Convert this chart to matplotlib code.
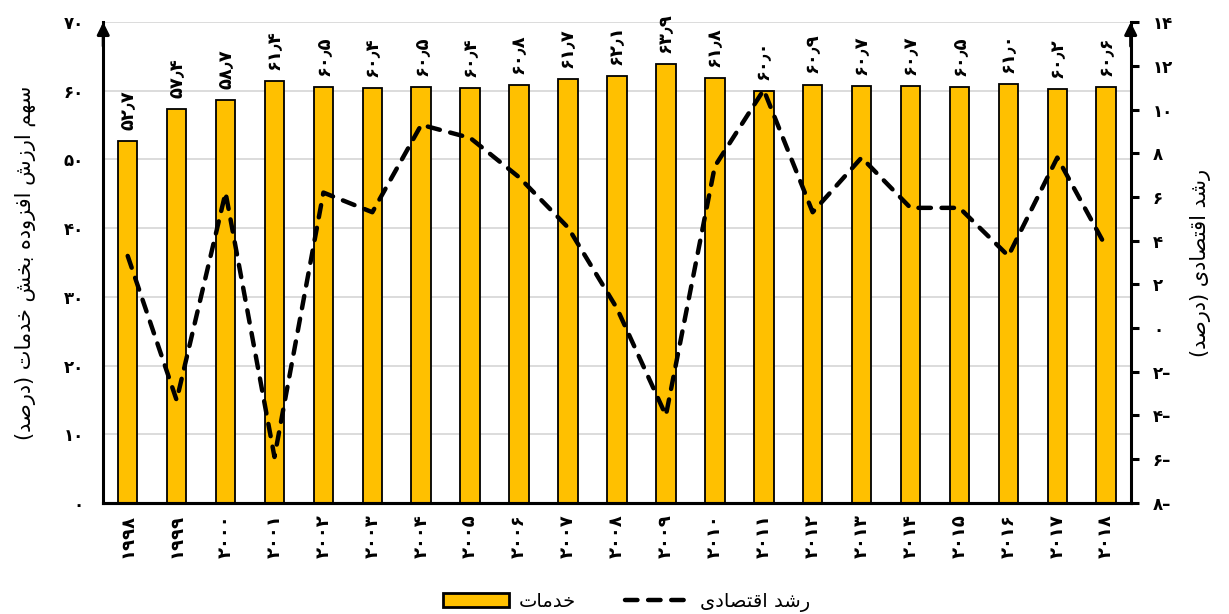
import matplotlib
matplotlib.use("Agg")
import matplotlib.pyplot as plt
from matplotlib.patches import Patch
from matplotlib.lines import Line2D

# services value-added share (%) and economic growth (%) by year
years = list(range(1998, 2019))
services_share = [52.7, 57.4, 58.7, 61.4, 60.5, 60.4, 60.5, 60.4, 60.8, 61.7, 62.1,
                  63.9, 61.8, 60.0, 60.9, 60.7, 60.7, 60.5, 61.0, 60.2, 60.6]
growth = [3.3, -3.3, 6.2, -5.9, 6.2, 5.3, 9.3, 8.7, 6.9, 4.6, 0.9,
          -4.0, 7.4, 10.9, 5.3, 7.8, 5.5, 5.5, 3.3, 7.8, 3.7]

left_ticks = list(range(0, 71, 10))
right_ticks = list(range(-8, 15, 2))

services_label = "خدمات"
growth_label = "رشد اقتصادی"
left_title = "سهم ارزش افزوده بخش خدمات (درصد)"
right_title = "رشد اقتصادی (درصد)"

BAR_COLOR = "#FFC000"

# --- minimal Persian shaping (matplotlib has no RTL/joining support) ---
# forms: isolated, final, initial, medial (right-joining letters only have two)
FORMS = {
    "ا": ("\uFE8D", "\uFE8E"),
    "ب": ("\uFE8F", "\uFE90", "\uFE91", "\uFE92"),
    "ت": ("\uFE95", "\uFE96", "\uFE97", "\uFE98"),
    "خ": ("\uFEA5", "\uFEA6", "\uFEA7", "\uFEA8"),
    "د": ("\uFEA9", "\uFEAA"),
    "ر": ("\uFEAD", "\uFEAE"),
    "ز": ("\uFEAF", "\uFEB0"),
    "س": ("\uFEB1", "\uFEB2", "\uFEB3", "\uFEB4"),
    "ش": ("\uFEB5", "\uFEB6", "\uFEB7", "\uFEB8"),
    "ص": ("\uFEB9", "\uFEBA", "\uFEBB", "\uFEBC"),
    "ف": ("\uFED1", "\uFED2", "\uFED3", "\uFED4"),
    "ق": ("\uFED5", "\uFED6", "\uFED7", "\uFED8"),
    "م": ("\uFEE1", "\uFEE2", "\uFEE3", "\uFEE4"),
    "ه": ("\uFEE9", "\uFEEA", "\uFEEB", "\uFEEC"),
    "و": ("\uFEED", "\uFEEE"),
    "ی": ("\uFEEF", "\uFEF0", "\uFEF3", "\uFEF4"),
}
MIRROR = {"(": ")", ")": "("}


def fa(text):
    out = []
    for i, ch in enumerate(text):
        forms = FORMS.get(ch)
        if forms is None:
            out.append(MIRROR.get(ch, ch))
            continue
        prev = text[i - 1] if i > 0 else ""
        nxt = text[i + 1] if i + 1 < len(text) else ""
        joins_prev = prev in FORMS and len(FORMS[prev]) == 4
        joins_next = len(forms) == 4 and nxt in FORMS
        if joins_prev and joins_next:
            out.append(forms[3])
        elif joins_prev:
            out.append(forms[1])
        elif joins_next:
            out.append(forms[2])
        else:
            out.append(forms[0])
    return "".join(reversed(out))


FA_DIGITS = str.maketrans("0123456789.", "۰۱۲۳۴۵۶۷۸۹٫")


def fa_num(value, fmt="{}"):
    s = fmt.format(abs(value)).translate(FA_DIGITS)
    return s + "\u2013" if value < 0 else s


plt.rcParams["font.family"] = ["DejaVu Sans"]

fig = plt.figure(figsize=(12.29, 6.14), dpi=100)
ax = fig.add_axes([0.084, 0.181, 0.836, 0.783])
ax2 = ax.twinx()

x = list(range(len(years)))
bars = ax.bar(x, services_share, width=0.4, color=BAR_COLOR,
              edgecolor="black", linewidth=1.3, zorder=2)
for xi, v in zip(x, services_share):
    ax.annotate(fa_num(v, "{:.1f}"), (xi, v), xytext=(0, 8),
                textcoords="offset points", rotation=90, ha="center",
                va="bottom", fontsize=13, fontweight="bold")

ax2.plot(x, growth, color="black", lw=3.2, dashes=(2.8, 2.4),
         dash_capstyle="round", zorder=3)

ax.set_xlim(-0.5, 20.5)
ax.set_ylim(0, 70)
ax2.set_ylim(-8, 14)

ax.set_yticks(left_ticks)
ax.set_yticklabels([fa_num(t) for t in left_ticks], fontsize=12, fontweight="bold")
ax2.set_yticks(right_ticks)
ax2.set_yticklabels([fa_num(t) for t in right_ticks], fontsize=12, fontweight="bold")
ax.set_xticks(x)
ax.set_xticklabels([fa_num(y) for y in years], rotation=90, fontsize=13,
                   fontweight="bold")

ax.tick_params(axis="y", length=0, pad=14)
ax.tick_params(axis="x", length=0, pad=8)
ax2.tick_params(axis="y", length=6, width=2.2, pad=10)

ax.grid(axis="y", color="#d9d9d9", lw=1.3)
ax.set_axisbelow(True)

for a in (ax, ax2):
    for side in ("left", "right", "bottom"):
        a.spines[side].set_linewidth(2.2)
    a.spines["top"].set_visible(False)
ax.spines["right"].set_visible(False)
ax2.spines["left"].set_visible(False)

# arrow heads on the two vertical axes
for xa in (0, 1):
    ax.annotate("", xy=(xa, 1.0), xytext=(xa, 0.95), xycoords="axes fraction",
                arrowprops=dict(arrowstyle="-|>", color="black", lw=2.2,
                                mutation_scale=18, shrinkA=0, shrinkB=0))

ax.set_ylabel(fa(left_title), fontsize=15, labelpad=20)
ax2.set_ylabel(fa(right_title), fontsize=15, labelpad=12)

handles = [
    Patch(facecolor=BAR_COLOR, edgecolor="black", linewidth=2),
    Line2D([], [], color="black", lw=3.2, dashes=(2.8, 2.4), dash_capstyle="round"),
]
fig.legend(handles, [fa(services_label), fa(growth_label)], loc="center",
           bbox_to_anchor=(0.51, 0.02), ncol=2, frameon=False, fontsize=14,
           handlelength=3.4, handleheight=0.8, handletextpad=0.5,
           columnspacing=2.5)

fig.savefig("out.png", dpi=100)
